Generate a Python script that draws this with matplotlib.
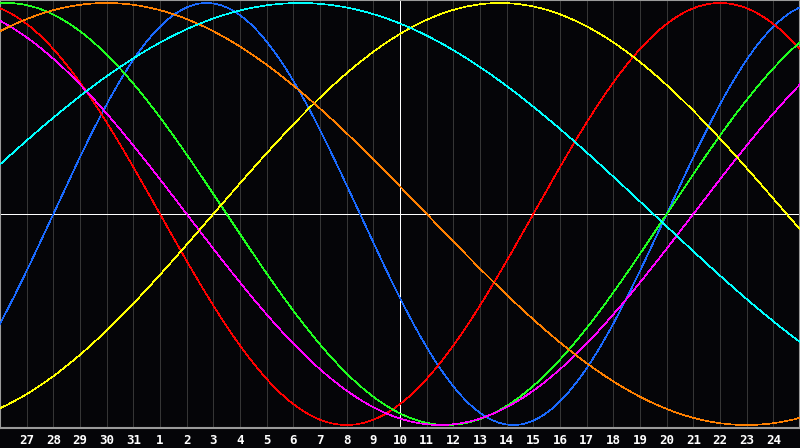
"""Biorhythm chart: seven cycles over a 30-day window, centred on the 10th."""
import matplotlib
matplotlib.use("Agg")
import matplotlib.pyplot as plt
import numpy as np

# day labels under each gridline (previous month 27..31, then 1..24)
DAY_LABELS = ["27", "28", "29", "30", "31"] + [str(d) for d in range(1, 25)]
CENTER_DAY = "10"

CYCLE_NAMES = ["physical", "emotional", "intellectual", "intuitive",
               "aesthetic", "awareness", "spiritual"]
CYCLE_DAYS = [23, 28, 33, 38, 43, 48, 53]
CYCLE_COLORS = ["#1a6aff", "#ff0000", "#20ff20", "#ff00ff",
                "#ffff00", "#ff8000", "#00ffff"]
DAYS_ALIVE_AT_LEFT = 29576   # days since birth at the left edge of the window
WINDOW_DAYS = 30

BG = "#050508"
PX = 0.72  # one pixel at 100 dpi, in points


def main() -> None:
    fig = plt.figure(figsize=(8.0, 4.48), dpi=100, facecolor=BG)
    ax = fig.add_axes([0, 20 / 448, 1, 428 / 448], facecolor=BG)

    t = np.linspace(0, WINDOW_DAYS, 1201)
    for name, period, color in zip(CYCLE_NAMES, CYCLE_DAYS, CYCLE_COLORS):
        y = np.sin(2 * np.pi * (DAYS_ALIVE_AT_LEFT + t) / period)
        ax.plot(t, y, color=color, lw=0.45, antialiased=False, zorder=3, label=name)

    ticks = list(range(1, WINDOW_DAYS))
    for x in ticks:
        ax.axvline(x, color="#353535", lw=PX, antialiased=False, zorder=1)
    ax.axvline(ticks[DAY_LABELS.index(CENTER_DAY)], color="white", lw=PX,
               antialiased=False, zorder=2)
    ax.axhline(0, color="white", lw=PX, antialiased=False, zorder=2)

    ax.set_xlim(0, WINDOW_DAYS)
    lim = 214 / 211
    ax.set_ylim(-lim, lim)
    ax.set_xticks(ticks)
    ax.set_xticklabels(DAY_LABELS, color="white", fontsize=9, fontweight="bold",
                       family="DejaVu Sans Mono")
    ax.tick_params(axis="x", length=0, pad=4)
    ax.set_yticks([])
    for s in ax.spines.values():
        s.set_color("#9a9a9a")
        s.set_linewidth(1.5)

    fig.savefig("out.png", dpi=100, facecolor=BG)
    plt.close(fig)


if __name__ == "__main__":
    main()
